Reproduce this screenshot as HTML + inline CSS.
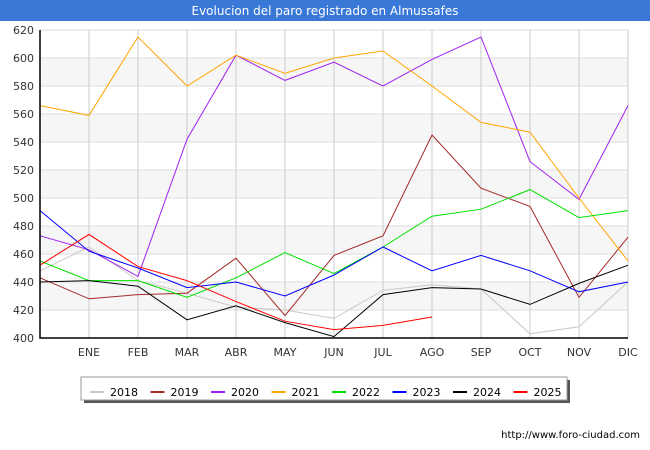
<!DOCTYPE html>
<html><head><meta charset="utf-8"><style>
body{margin:0;background:#fff;font-family:"DejaVu Sans","Liberation Sans",sans-serif;}
#w{position:relative;width:650px;height:450px;overflow:hidden;}
#title{position:absolute;left:0;top:0;width:650px;height:21px;background:#3a78d8;color:#fff;font-size:12px;text-align:center;line-height:22px;}
</style></head><body>
<div id="w">
<div id="title">Evolucion del paro registrado en Almussafes</div>
<svg id="s" width="650" height="450" style="position:absolute;left:0;top:0"></svg>
</div>
<script>
const months=["","ENE","FEB","MAR","ABR","MAY","JUN","JUL","AGO","SEP","OCT","NOV","DIC"];
const yTicks=[400,420,440,460,480,500,520,540,560,580,600,620];
const seriesNames=["2018","2019","2020","2021","2022","2023","2024","2025"];
const seriesColors=["#c8c8c8","#a52a2a","#a020f0","#ffa500","#00e000","#0000ff","#000000","#ff0000"];
const s2018=[448,465,441,432,422,420,414,434,438,435,403,408,440];
const s2019=[443,428,431,432,457,416,459,473,545,507,494,429,472];
const s2020=[473,463,444,542,602,584,597,580,599,615,526,499,566];
const s2021=[566,559,615,580,602,589,600,605,580,554,547,500,455];
const s2022=[455,441,441,429,443,461,446,465,487,492,506,486,491];
const s2023=[491,462,450,436,440,430,445,465,448,459,448,433,440];
const s2024=[440,441,437,413,423,411,401,431,436,435,424,439,452];
const s2025=[452,474,451,441,426,412,406,409,415];
const allSeries=[s2018,s2019,s2020,s2021,s2022,s2023,s2024,s2025];
const L=40,R=628,T=30,B=338;
const x=i=>L+i*(R-L)/12;
const y=v=>B-(v-400)*(B-T)/220;
const svg=document.getElementById('s');
const NS="http://www.w3.org/2000/svg";
function mk(t,a,p){const e=document.createElementNS(NS,t);for(const k in a)e.setAttribute(k,a[k]);(p||svg).appendChild(e);return e;}
for(let i=0;i<yTicks.length-1;i++){if(i%2==1){const r=mk('rect',{x:L,y:y(yTicks[i+1]),width:R-L,height:y(yTicks[i])-y(yTicks[i+1]),fill:'#f6f6f6'});

}}
yTicks.forEach(v=>{const l=mk('line',{x1:L,x2:R,y1:y(v),y2:y(v),stroke:'#dddddd'});


const t=mk('text',{x:L-6,y:y(v)+4,'text-anchor':'end','font-size':11,fill:'#333'});t.textContent=v;

});
months.forEach((m,i)=>{if(i>0){const l=mk('line',{x1:x(i),x2:x(i),y1:T,y2:B,stroke:'#cccccc'});


const t=mk('text',{x:x(i),y:356,'text-anchor':'middle','font-size':11,fill:'#333'});t.textContent=m;

}});
allSeries.forEach((d,k)=>{const p=mk('polyline',{points:d.map((v,i)=>x(i)+','+y(v)).join(' '),fill:'none',stroke:seriesColors[k],'stroke-width':1});

});
const ax=mk('path',{d:`M${L},${T}V${B}H${R}`,fill:'none',stroke:'#000','stroke-width':1.5});


const lg=mk('g',{});


mk('rect',{x:84,y:380,width:486,height:23,fill:'#555'},lg);
mk('rect',{x:81,y:377,width:486,height:23,fill:'#fff',stroke:'#999'},lg);
seriesNames.forEach((n,k)=>{const gx=90+k*60.5;const g=mk('g',{},lg);


mk('line',{x1:gx,x2:gx+14,y1:392,y2:392,stroke:seriesColors[k],'stroke-width':2},g);
const t=mk('text',{x:gx+20,y:396,'font-size':11,fill:'#000'},g);t.textContent=n;});
const u=mk('text',{x:640,y:438,'text-anchor':'end','font-size':10,fill:'#000'});u.textContent='http://www.foro-ciudad.com';


</script>
</body></html>
